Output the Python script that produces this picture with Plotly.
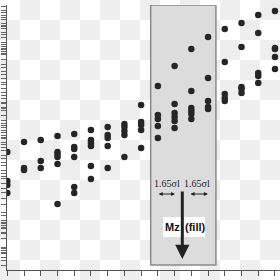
import plotly.graph_objects as go

# ---- data ----
columns = list(range(17))
col_values = [
    [118, 89, 85, 77],
    [128, 102, 100],
    [130, 109, 102],
    [134, 118, 116, 113, 106, 66],
    [136, 123, 121, 113, 83, 77],
    [140, 130, 127, 124, 104, 91],
    [143, 135, 132, 124, 102],
    [146, 143, 139, 135, 113],
    [165, 148, 145, 140, 122],
    [184, 155, 151, 144, 132],
    [204, 166, 157, 153, 149, 142],
    [221, 179, 162, 159, 156, 151],
    [233, 192, 169, 163, 161],
    [241, 208, 176, 172, 169],
    [247, 223, 183, 181, 177],
    [255, 237, 197, 194, 187],
    [259, 222, 221, 213, 201],
]
y_tick_vals = [264, 260, 258, 255, 253, 251, 247, 245, 244, 242, 238, 236, 233,
               228, 226, 224, 222, 221, 219, 217, 216, 211, 206, 203, 199, 196,
               192, 188, 186, 182, 178, 175, 172, 168, 167, 163, 162, 160, 155,
               150, 147, 145, 143, 140, 138, 135, 133, 132, 128, 126, 123, 120,
               115, 112, 108, 105, 100, 97, 94, 92, 87, 82, 78, 72, 66, 58, 55,
               50, 48, 47, 45, 43, 42, 38, 37, 32, 23, 22, 20, 18, 17, 13, 10, 5]
band_x = [8.57, 12.47]
band_y = [5, 265]
label_sigma = "1.65σl"
label_mz = "Mz"
label_fill = "(fill)"

xs, ys = [], []
for c, vals in zip(columns, col_values):
    for v in vals:
        xs.append(c)
        ys.append(v)

fig = go.Figure()
fig.add_trace(go.Scatter(x=xs, y=ys, mode="markers",
                         marker=dict(size=6.5, color="#262626"),
                         hoverinfo="skip", showlegend=False))

# checkerboard background (20px squares) in paper coords
L, T, B, W, H = 7, 5, 10, 273, 265
shapes = []
for i in range(14):
    for j in range(14):
        if (i + j) % 2 == 1:
            x0p, x1p = 20 * i, 20 * (i + 1)
            y0p, y1p = 20 * j, 20 * (j + 1)
            shapes.append(dict(type="rect", xref="paper", yref="paper",
                               x0=(x0p - L) / W, x1=(x1p - L) / W,
                               y0=(270 - y1p) / H, y1=(270 - y0p) / H,
                               fillcolor="#eeeeee", line=dict(width=0),
                               layer="below"))
shapes.append(dict(type="rect", xref="x", yref="y",
                   x0=band_x[0], x1=band_x[1], y0=band_y[0], y1=band_y[1],
                   fillcolor="#dcdcdc", line=dict(color="#8a8a8a", width=1.5),
                   layer="below"))
# white label boxes
for x0, x1 in [(9.31, 10.50), (10.57, 11.82)]:
    shapes.append(dict(type="rect", xref="x", yref="y", x0=x0, x1=x1, y0=33, y1=53,
                       fillcolor="white", line=dict(width=0), layer="above"))

ann = []
serif = dict(family="Liberation Serif", size=10, color="#222")
ann.append(dict(x=9.55, y=87, text=label_sigma, showarrow=False, font=serif))
ann.append(dict(x=11.34, y=87, text=label_sigma, showarrow=False, font=serif))
for a, b in [(8.96, 10.02), (10.86, 11.99)]:
    ann.append(dict(x=b, y=76, ax=a, ay=76, axref="x", ayref="y", xref="x", yref="y",
                    text="", showarrow=True, arrowhead=2, arrowsize=0.8,
                    arrowwidth=1, arrowside="end+start", arrowcolor="#222"))
bold = dict(family="Liberation Sans", size=11, color="#111")
ann.append(dict(x=9.88, y=43, text="<b>" + label_mz + "</b>", showarrow=False, font=bold))
ann.append(dict(x=11.22, y=43, text="<b>" + label_fill + "</b>", showarrow=False, font=bold))
ann.append(dict(x=10.46, y=11, ax=10.46, ay=80, axref="x", ayref="y", xref="x", yref="y",
                text="", showarrow=True, arrowhead=2, arrowsize=0.95,
                arrowwidth=3, arrowcolor="#222", standoff=0))

fig.update_layout(
    width=280, height=280,
    margin=dict(l=L, r=0, t=T, b=B),
    paper_bgcolor="white", plot_bgcolor="rgba(0,0,0,0)",
    shapes=shapes, annotations=ann,
    xaxis=dict(range=[-0.018, 16.3], tickvals=columns, ticks="outside", ticklen=5,
               tickcolor="#555", showticklabels=False, showgrid=False, zeroline=False,
               showline=True, linecolor="#555", linewidth=1),
    yaxis=dict(range=[0, 265], tickvals=y_tick_vals, ticks="outside", ticklen=5,
               tickcolor="#666", showticklabels=False, showgrid=False, zeroline=False,
               showline=True, linecolor="#555", linewidth=1),
)
fig.write_html("out.html")
